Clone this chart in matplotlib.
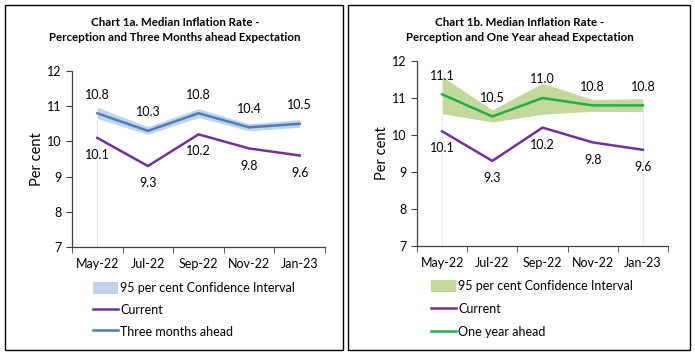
import matplotlib.pyplot as plt
from matplotlib.patches import Rectangle, Patch
from matplotlib.lines import Line2D

plt.rcParams['font.family'] = ['Lato', 'DejaVu Sans']

# %% Data
months = ['May-22', 'Jul-22', 'Sep-22', 'Nov-22', 'Jan-23']
current = [10.1, 9.3, 10.2, 9.8, 9.6]

three_month = [10.8, 10.3, 10.8, 10.4, 10.5]
three_lo = [10.65, 10.2, 10.68, 10.3, 10.4]
three_hi = [10.97, 10.42, 10.93, 10.5, 10.62]

one_year = [11.1, 10.5, 11.0, 10.8, 10.8]
one_lo = [10.58, 10.35, 10.56, 10.64, 10.63]
one_hi = [11.58, 10.68, 11.4, 10.96, 10.98]

# %% Colours
purple = '#7030a0'
blue = '#4a7ebb'
blue_band = '#c0d3ec'
green = '#1fae4b'
green_band = '#c4d89b'

W, H = 695, 354
fig = plt.figure(figsize=(W / 100, H / 100), dpi=100)

# panel borders
for x0, x1 in [(5, 343), (348, 690)]:
    fig.patches.append(Rectangle((x0 / W, 4 / H), (x1 - x0) / W, (349 - 4) / H,
                                 transform=fig.transFigure, fill=False,
                                 edgecolor='black', lw=1))


def make_panel(rect, title, ahead, lo, hi, line_c, band_c, ahead_name,
               title_x, drop_x):
    l, t, r, b = rect
    ax = fig.add_axes([l / W, (H - b) / H, (r - l) / W, (b - t) / H])
    x = list(range(len(months)))
    ax.fill_between(x, lo, hi, color=band_c, lw=0, zorder=1)
    for dx in drop_x:
        ax.plot([dx, dx], [7, lo[dx]], color='#e4e4e4', lw=0.6, zorder=0)
    ax.plot(x, current, color=purple, lw=1.8, zorder=3)
    ax.plot(x, ahead, color=line_c, lw=1.8, zorder=3)
    for i in x:
        ax.annotate(f'{ahead[i]:.1f}', (i, ahead[i]), xytext=(0, 9),
                    textcoords='offset points', ha='center', va='bottom',
                    fontsize=9)
        ax.annotate(f'{current[i]:.1f}', (i, current[i]), xytext=(0, -8),
                    textcoords='offset points', ha='center', va='top',
                    fontsize=9)
    ax.set_xlim(-0.5, 4.5)
    ax.set_ylim(7, 12)
    ax.set_xticks(x)
    ax.set_xticklabels(months, fontsize=9)
    ax.set_xticks([-0.5, 0.5, 1.5, 2.5, 3.5, 4.5], minor=True)
    ax.tick_params(axis='x', which='major', length=0, pad=8)
    ax.tick_params(axis='x', which='minor', length=4, direction='out', color='#404040')
    ax.set_yticks(range(7, 13))
    ax.tick_params(axis='y', length=4, direction='out', labelsize=9, color='#404040')
    ax.set_ylabel('Per cent', fontsize=10.5, labelpad=2)
    for s in ['top', 'right']:
        ax.spines[s].set_visible(False)
    for s in ['left', 'bottom']:
        ax.spines[s].set_color('#404040')
        ax.spines[s].set_linewidth(0.9)
    fig.text(title_x / W, (H - 30) / H, title, ha='center', va='center',
             fontsize=8.3, fontweight='bold', linespacing=1.45)
    handles = [Patch(facecolor=band_c, edgecolor='none'),
               Line2D([], [], color=purple, lw=1.8),
               Line2D([], [], color=line_c, lw=1.8)]
    labels = ['95 per cent Confidence Interval', 'Current', ahead_name]
    return ax, handles, labels


ax1, h1, l1 = make_panel((72, 71, 325, 247),
                         'Chart 1a. Median Inflation Rate -\nPerception and Three Months ahead Expectation',
                         three_month, three_lo, three_hi, blue, blue_band,
                         'Three months ahead', 175, [0])
fig.legend(h1, l1, loc='upper left', bbox_to_anchor=(88 / W, (H - 277) / H),
           frameon=False, fontsize=9, handlelength=2.0, handleheight=1.1,
           handletextpad=0.2, labelspacing=0.75, borderaxespad=0)

ax2, h2, l2 = make_panel((417, 61, 668, 246),
                         'Chart 1b. Median Inflation Rate -\nPerception and One Year ahead Expectation',
                         one_year, one_lo, one_hi, green, green_band,
                         'One year ahead', 520, [0, 4])
fig.legend(h2, l2, loc='upper left', bbox_to_anchor=(426 / W, (H - 275) / H),
           frameon=False, fontsize=9, handlelength=2.0, handleheight=1.1,
           handletextpad=0.2, labelspacing=0.85, borderaxespad=0)

fig.savefig('out.png', dpi=100)
